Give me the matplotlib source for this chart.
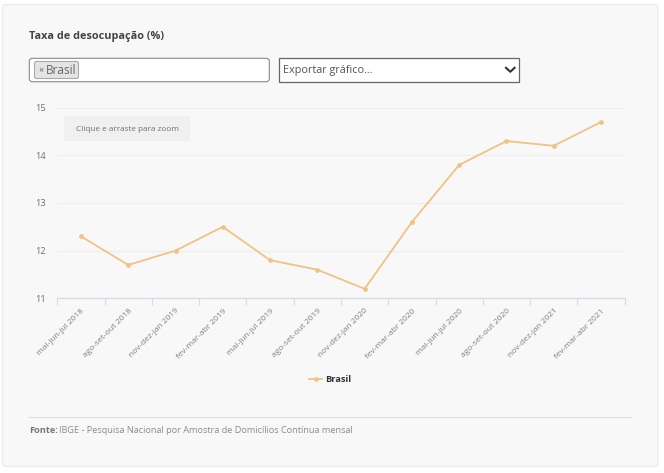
# coding:utf-8
"""
Taxa de desocupação (%) - gráfico de linha com o painel da página
"""
import matplotlib
matplotlib.use("Agg")
import matplotlib.pyplot as plt
from matplotlib.patches import FancyBboxPatch, Rectangle

plt.rcParams["font.family"] = ["Open Sans", "DejaVu Sans"]

categories = ["mai-jun-jul 2018", "ago-set-out 2018", "nov-dez-jan 2019", "fev-mar-abr 2019",
              "mai-jun-jul 2019", "ago-set-out 2019", "nov-dez-jan 2020", "fev-mar-abr 2020",
              "mai-jun-jul 2020", "ago-set-out 2020", "nov-dez-jan 2021", "fev-mar-abr 2021"]
brasil = [12.3, 11.7, 12.0, 12.5, 11.8, 11.6, 11.2, 12.6, 13.8, 14.3, 14.2, 14.7]
y_ticks = [11, 12, 13, 14, 15]

W, H = 664, 473
LINE = "#f1c283"
AXIS = "#d6dce6"

fig = plt.figure(figsize=(W / 100, H / 100), dpi=100, facecolor="white")

# camada de fundo em pixels (y para baixo)
bg = fig.add_axes([0, 0, 1, 1])
bg.set_xlim(0, W)
bg.set_ylim(H, 0)
bg.axis("off")

bg.add_patch(FancyBboxPatch((2.5, 4.5), 655.5, 462, boxstyle="round,pad=0,rounding_size=4",
                            fc="#f8f8f8", ec="#ececec", lw=1))
bg.text(29, 36.6, "Taxa de desocupação (%)", fontsize=7.8, fontweight="bold", color="#444444",
        va="center", ha="left")

# caixa de seleção
bg.add_patch(FancyBboxPatch((29.3, 58.3), 240, 23.4, boxstyle="round,pad=0,rounding_size=3",
                            fc="white", ec="#8a8a8a", lw=0.8))
bg.add_patch(FancyBboxPatch((34.5, 61.5), 44, 17, boxstyle="round,pad=0,rounding_size=2",
                            fc="#e4e4e4", ec="#aaaaaa", lw=0.8))
bg.text(41, 70.5, "×", fontsize=6.5, color="#888888", va="center", ha="center", fontweight="bold")
bg.text(46, 70, "Brasil", fontsize=8.5, color="#666666", va="center", ha="left")

# exportar
bg.add_patch(Rectangle((279.3, 58.3), 240, 23.4, fc="white", ec="#666666", lw=0.9))
bg.text(283, 70, "Exportar gráfico...", fontsize=7.8, color="#555555", va="center", ha="left")
bg.plot([506, 510.3, 514.6], [67.8, 71.8, 67.8], color="#333333", lw=1.5)

# rodapé
bg.plot([29, 631], [416.5, 416.5], color="#e2e2e2", lw=0.9)
bg.text(29, 430.5, "Fonte:", fontsize=6.55, fontweight="bold", color="#777777", va="center", ha="left")
bg.text(59, 430.5, "IBGE - Pesquisa Nacional por Amostra de Domicílios Contínua mensal", fontsize=6.55,
        color="#8c8c8c", va="center", ha="left")

# botão de zoom
bg.add_patch(Rectangle((64, 116), 126, 25, fc="#f0f0f0", ec="none"))
bg.text(127, 129.5, "Clique e arraste para zoom", fontsize=5.9, color="#707070", va="center", ha="center")

# gráfico
x0, x1, y_top, y_bot = 57.3, 624.7, 107.7, 298.3
ax = fig.add_axes([x0 / W, 1 - y_bot / H, (x1 - x0) / W, (y_bot - y_top) / H])
ax.patch.set_alpha(0)
x = list(range(len(categories)))
ax.plot(x, brasil, color=LINE, lw=1.3, marker="o", ms=2.4, mec=LINE, mfc=LINE,
        clip_on=False, label="Brasil", zorder=3)
ax.set_xlim(-0.5, len(categories) - 0.5)
ax.set_ylim(11, 15)
ax.set_yticks(y_ticks)
ax.set_yticklabels([str(v) for v in y_ticks], fontsize=6.7, color="#707070")
ax.grid(axis="y", color="#eeeeee", lw=0.9)
ax.set_axisbelow(True)
ax.tick_params(axis="y", length=0, pad=8)

# marcas do eixo nas bordas das categorias
ax.set_xticks([i - 0.5 for i in range(len(categories) + 1)])
ax.set_xticklabels([])
ax.tick_params(axis="x", length=5, width=0.8, color=AXIS, direction="out")
ax.set_xticks(x, minor=True)
ax.set_xticklabels(categories, minor=True, rotation=45, ha="right", va="top",
                   rotation_mode="anchor", fontsize=6.0, color="#808080")
ax.tick_params(axis="x", which="minor", length=0, pad=6.5)

for s in ["top", "left", "right"]:
    ax.spines[s].set_visible(False)
ax.spines["bottom"].set_color(AXIS)
ax.spines["bottom"].set_linewidth(0.9)

# legenda
bg.plot([309, 322], [379, 379], color=LINE, lw=1.3)
bg.plot([315.5], [379], color=LINE, marker="o", ms=2.4)
bg.text(325, 379, "Brasil", fontsize=6.7, fontweight="bold", color="#333333", va="center", ha="left")

fig.savefig("out.png", dpi=100, facecolor="white")
